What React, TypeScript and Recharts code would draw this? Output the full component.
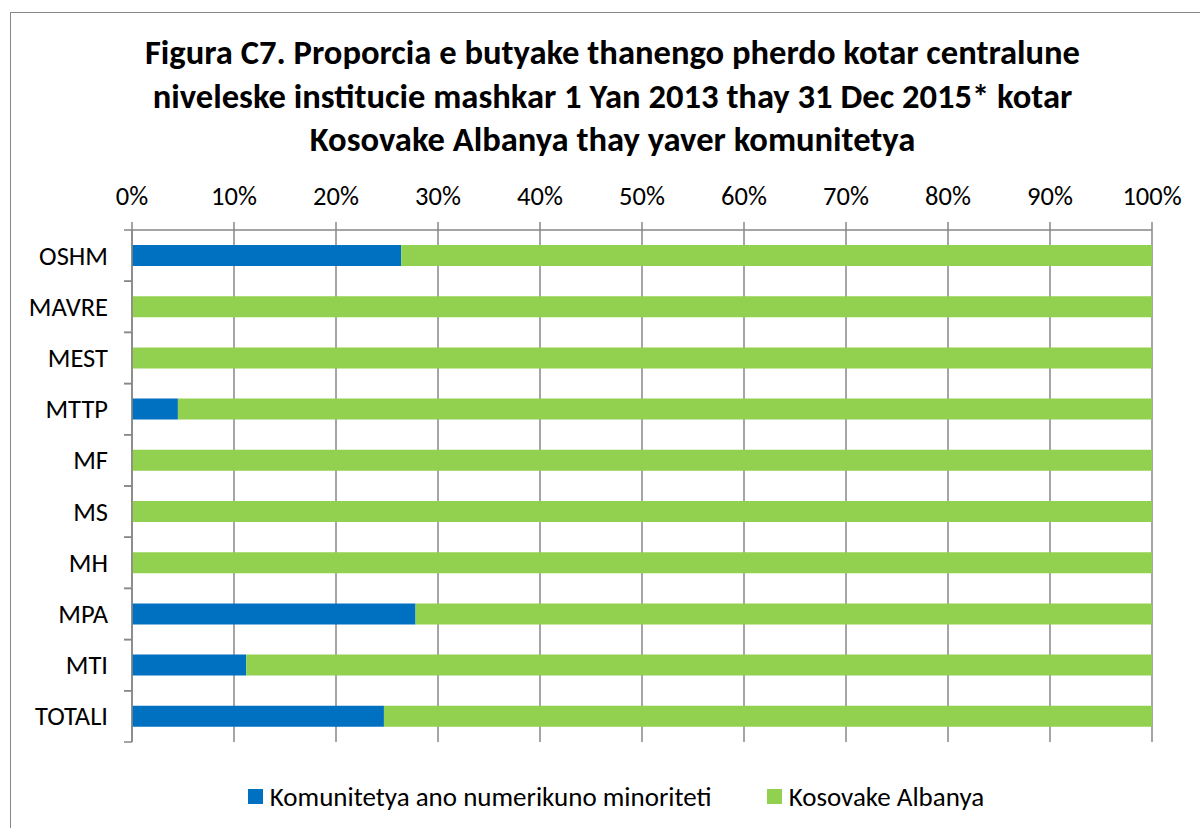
import React from 'react';
import { BarChart, Bar, XAxis, YAxis, CartesianGrid, Legend } from 'recharts';

const categories = ['OSHM', 'MAVRE', 'MEST', 'MTTP', 'MF', 'MS', 'MH', 'MPA', 'MTI', 'TOTALI'];
const minorityShare = [0.264, 0, 0, 0.045, 0, 0, 0, 0.278, 0.112, 0.247];
const albanianShare = minorityShare.map((v) => 1 - v);
const xTicks = [0, 0.1, 0.2, 0.3, 0.4, 0.5, 0.6, 0.7, 0.8, 0.9, 1];

const titleLines = [
  'Figura C7. Proporcia e butyake thanengo pherdo kotar centralune',
  'niveleske institucie mashkar 1 Yan 2013 thay 31 Dec 2015* kotar',
  'Kosovake Albanya thay yaver komunitetya',
];

const seriesNames = ['Komunitetya ano numerikuno minoriteti', 'Kosovake Albanya'];
const BLUE = '#0070C0';
const GREEN = '#92D050';
const GRAY = '#878787';
const FONT = 'Carlito, Lato, "Open Sans", sans-serif';

const data = categories.map((name, i) => ({
  name,
  minority: minorityShare[i],
  albanian: albanianShare[i],
}));

const BAND = 51.2;

// category labels, with tick marks at the band edges like Excel does
const CategoryTick = (props: any) => {
  const { x, y, payload } = props;
  return (
    <g>
      <line x1={x} x2={x + 8} y1={y - BAND / 2} y2={y - BAND / 2} stroke={GRAY} strokeWidth={1.5} />
      <line x1={x} x2={x + 8} y1={y + BAND / 2} y2={y + BAND / 2} stroke={GRAY} strokeWidth={1.5} />
      <text x={x - 16} y={y} dy={9} textAnchor="end" fontSize={26.5} fill="#000" fontFamily={FONT}>
        {payload.value}
      </text>
    </g>
  );
};

const LegendContent = () => (
  <div
    style={{
      display: 'flex',
      justifyContent: 'center',
      fontFamily: FONT,
      fontSize: 27,
      lineHeight: '33px',
      color: '#000',
      width: 1232,
    }}
  >
    {seriesNames.map((n, i) => (
      <div key={n} style={{ display: 'flex', alignItems: 'center', marginRight: i === 0 ? 55 : 0 }}>
        <span style={{ width: 15, height: 15, background: i === 0 ? BLUE : GREEN, display: 'inline-block', marginRight: 7 }} />
        <span>{n}</span>
      </div>
    ))}
  </div>
);

export default function App() {
  return (
    <div style={{ position: 'absolute', left: 0, top: 0, width: 1200, height: 828, background: '#fff', overflow: 'hidden' }}>
      <div
        style={{
          position: 'absolute',
          left: 10,
          top: 12,
          width: 1200,
          height: 830,
          border: `1.5px solid ${GRAY}`,
        }}
      />
      <div
        style={{
          position: 'absolute',
          left: 0,
          width: 1225,
          top: 31,
          textAlign: 'center',
          fontFamily: FONT,
          fontWeight: 'bold',
          fontSize: 34.6,
          lineHeight: '43.5px',
          color: '#000',
          whiteSpace: 'nowrap',
        }}
      >
        {titleLines.map((l) => (
          <div key={l}>{l}</div>
        ))}
      </div>
      <div style={{ position: 'absolute', left: 0, top: 0 }}>
        <BarChart
          width={1200}
          height={828}
          data={data}
          layout="vertical"
          margin={{ top: 190, right: 48, bottom: 53, left: 10 }}
          barCategoryGap={0}
        >
          <CartesianGrid horizontal={false} stroke={GRAY} strokeWidth={1.5} />
          <XAxis
            type="number"
            orientation="top"
            domain={[0, 1]}
            ticks={xTicks}
            tickFormatter={(v: number) => `${Math.round(v * 100)}%`}
            height={40}
            stroke={GRAY}
            strokeWidth={1.5}
            tickSize={8}
            tickMargin={17}
            tick={{ fill: '#000', fontSize: 26.5, fontFamily: FONT }}
            interval={0}
          />
          <YAxis
            type="category"
            dataKey="name"
            width={122}
            stroke={GRAY}
            strokeWidth={1.5}
            tickLine={false}
            tick={<CategoryTick />}
            interval={0}
          />
          <Legend
            content={<LegendContent />}
            wrapperStyle={{ position: 'absolute', top: 780, left: 0, width: 1200 }}
          />
          <Bar dataKey="minority" stackId="a" fill={BLUE} barSize={21} name={seriesNames[0]} isAnimationActive={false} />
          <Bar dataKey="albanian" stackId="a" fill={GREEN} barSize={21} name={seriesNames[1]} isAnimationActive={false} />
        </BarChart>
      </div>
    </div>
  );
}
